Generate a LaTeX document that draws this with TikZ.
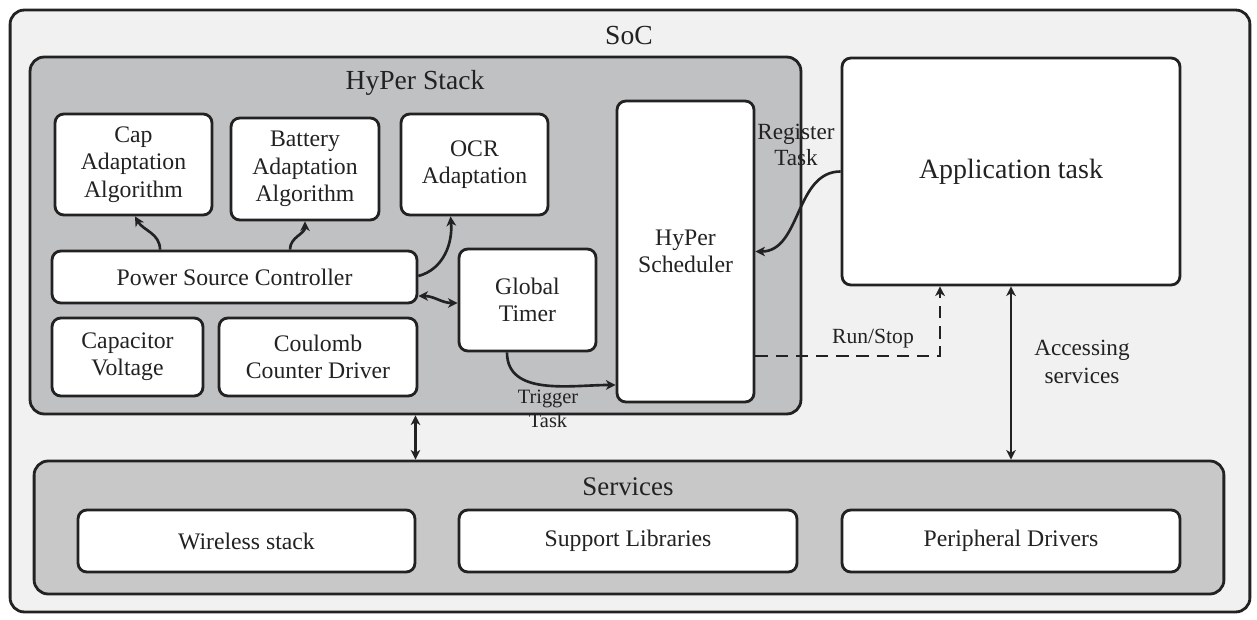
\documentclass[tikz,border=0pt]{standalone}
\usepackage{fontspec}
\setmainfont{Liberation Serif}
\usepackage{tikz}
\usetikzlibrary{arrows.meta,positioning}
\usepackage{xcolor}
\definecolor{socbg}{HTML}{F1F1F1}
\definecolor{stackbg}{HTML}{C0C1C3}
\definecolor{servbg}{HTML}{C8C8C8}
\definecolor{ink}{HTML}{222222}

\begin{document}
\begin{tikzpicture}[
    x=0.02cm, y=0.02cm,
    grp/.style={rectangle, draw=ink, line width=1.6pt, rounded corners=8pt, fill=#1},
    blk/.style={rectangle, draw=ink, line width=1.6pt, rounded corners=5pt, fill=white, align=center, text=ink, font=\fontsize{13.5}{15.6}\selectfont},
    title/.style={text=ink, font=\fontsize{15.7}{18}\selectfont},
    lbl/.style={align=center, text=ink, font=\fontsize{12.3}{14.5}\selectfont},
    conn/.style={draw=ink, line width=1.5pt},
    >={Stealth[length=5.5pt,width=5.5pt,inset=1.6pt]}
]
    \useasboundingbox (0,0) rectangle (1257,619);

    % containers
    \node[grp=socbg, minimum width=24.8cm, minimum height=12.04cm] (soc) at (630,308) {};
    \node[title] at (629,583) {SoC};
    \node[grp=stackbg, minimum width=15.42cm, minimum height=7.14cm] (stack) at (415.5,383.5) {};
    \node[title] at (415,536) {HyPer Stack};
    \node[grp=servbg, minimum width=23.8cm, minimum height=2.66cm] (serv) at (629,91.5) {};
    \node[title, font=\fontsize{15.3}{18}\selectfont] at (628,132) {Services};

    % HyPer stack blocks
    \node[blk, minimum width=3.14cm, minimum height=2.02cm] (cap) at (133.5,454.5) {Cap\\Adaptation\\Algorithm};
    \node[blk, minimum width=2.96cm, minimum height=2.04cm] (bat) at (305,450) {Battery\\Adaptation\\Algorithm};
    \node[blk, minimum width=2.94cm, minimum height=2.02cm] (ocr) at (474.5,454.5) {OCR\\Adaptation};
    \node[blk, minimum width=7.3cm, minimum height=1.04cm] (psc) at (234.5,342) {Power Source Controller};
    \node[blk, minimum width=3.02cm, minimum height=1.56cm] (capv) at (127.5,262) {Capacitor\\Voltage};
    \node[blk, minimum width=3.96cm, minimum height=1.56cm] (ccd) at (318,262) {Coulomb\\Counter Driver};
    \node[blk, minimum width=2.74cm, minimum height=2.04cm] (timer) at (527.5,319) {Global\\Timer};
    \node[blk, minimum width=2.74cm, minimum height=6.02cm] (sched) at (685.5,367.5) {HyPer\\Scheduler};

    % application
    \node[blk, minimum width=6.76cm, minimum height=4.54cm, font=\fontsize{15.9}{18}\selectfont] (app) at (1011,447.5) {Application task};

    % services
    \node[blk, minimum width=6.74cm, minimum height=1.24cm] (wl) at (246.5,78) {Wireless stack};
    \node[blk, minimum width=6.76cm, minimum height=1.24cm] (sl) at (628,78) {Support Libraries};
    \node[blk, minimum width=6.76cm, minimum height=1.24cm] (pd) at (1011,78) {Peripheral Drivers};

    % connectors
    \draw[conn, ->] ([xshift=-1.49cm]psc.north) to[out=90, in=-60] ([xshift=0.03cm]cap.south);
    \draw[conn, ->] ([xshift=1.11cm]psc.north) to[out=90, in=-90] (bat.south);
    \draw[conn, ->] ([yshift=0.02cm]psc.east) to[out=15, in=-85] ([xshift=-0.48cm]ocr.south);
    \draw[conn, <->] ([yshift=-0.38cm]psc.east) to[out=0, in=180] ([yshift=-0.06cm]timer.west);
    \draw[conn, ->] ([xshift=-0.41cm]timer.south) to[out=-90, in=180] ([yshift=-2.67cm]sched.west);
    \draw[conn, ->] (app.west) to[out=180, in=0] (sched.east);
    \draw[conn, ->, dash pattern=on 7pt off 4.5pt] ([yshift=-2.09cm]sched.east) -| ([xshift=-1.42cm]app.south);
    \draw[conn, <->] (app.south) -- (app.south |- serv.north);
    \draw[conn, <->] (stack.south) -- (stack.south |- serv.north);

    % connector labels
    \node[lbl, font=\fontsize{13.2}{15}\selectfont] at (796,474) {Register\\Task};
    \node[lbl, font=\fontsize{11.6}{13.5}\selectfont] at (548,210) {Trigger\\Task};
    \node[lbl] at (873,280) {Run/Stop};
    \node[lbl, font=\fontsize{13.2}{15.5}\selectfont] at (1082,257) {Accessing\\services};
\end{tikzpicture}
\end{document}
